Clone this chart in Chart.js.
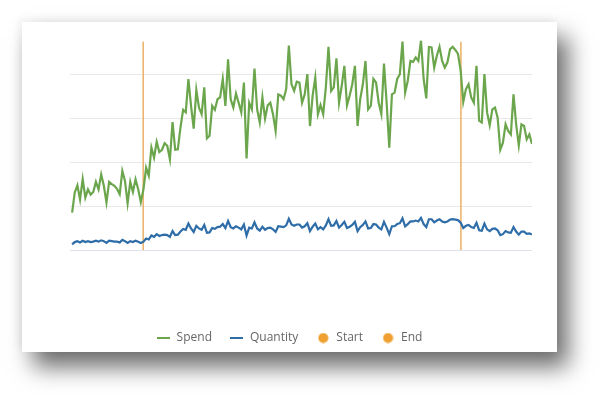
<!DOCTYPE html>
<html><head><meta charset="utf-8">
<script src="https://cdn.jsdelivr.net/npm/chart.js@4"></script>
<style>
html,body{margin:0;padding:0;background:#fff;width:600px;height:395px;overflow:hidden}
#card{position:absolute;left:22px;top:22px;width:535px;height:330px;background:#fff;
 box-shadow:11px 15px 22px rgba(0,0,0,0.58), -3px -3px 8px rgba(0,0,0,0.06);}
#card canvas{position:absolute;left:0;top:0}
</style></head>
<body><div id="card"><canvas id="c" width="535" height="332"></canvas></div>
<script>
const seriesNames = ['Spend', 'Quantity', 'Start', 'End'];
const spend = [
 8.5, 13.1, 14.7, 11.5, 16.1, 11.9, 13.8, 12.6,
 13.2, 15.5, 13.8, 17.2, 14.6, 10.8, 15.5, 15.0, 14.6, 13.9,
 12.7, 18.0, 15.7, 10.6, 15.5, 13.2, 16.1, 13.8, 10.9, 13.8, 18.7,
 16.9, 23.3, 21.0, 24.6, 22.3, 22.8, 24.3, 23.7, 20.6, 29.1,
 22.8, 22.9, 27.9, 31.9, 31.3, 38.9, 32.8, 27.6, 36.4, 32.4,
 30.9, 37.0, 25.4, 26.0, 32.8, 31.9, 34.3, 34.7, 38.9, 32.8,
 43.4, 34.3, 32.4, 35.6, 33.5, 31.3, 38.1, 20.8, 33.5, 32.0,
 41.3, 32.0, 29.0, 34.7, 29.9, 32.9, 33.5, 30.9, 27.1, 35.4,
 35.1, 34.3, 36.6, 46.5, 37.7, 36.2, 38.3, 38.1, 33.5, 35.4,
 40.0, 28.2, 35.1, 39.2, 30.9, 33.0,
 30.9, 37.0, 46.2, 36.2, 37.0, 43.6, 33.5, 37.3, 41.9, 32.9,
 35.1, 37.7, 41.9, 28.2, 34.3, 37.7, 43.0, 32.0, 32.8, 38.9,
 38.1, 33.5, 30.9, 42.4, 33.5, 23.3, 35.4, 35.8, 38.9, 40.0,
 47.4, 35.8, 38.5, 43.0, 42.8, 43.8, 43.0, 47.6, 38.9, 34.5,
 46.2, 46.1, 41.5, 44.2, 46.2, 43.0, 41.5, 42.7, 45.7, 46.2,
 45.5, 44.6, 40.8,
 33.7, 36.6, 37.7, 34.7, 33.5, 41.9, 29.4, 29.0, 40.0, 31.3,
 28.4, 32.0, 32.4, 30.1, 22.8, 24.4, 28.6, 27.1, 26.3, 35.4,
 28.6, 23.8, 28.6, 28.2, 25.2, 26.3, 24.1
];
const quantity = [
 1.3, 1.8, 2.0, 1.7, 2.1, 1.8, 2.0, 1.8,
 1.9, 2.1, 1.9, 2.2, 2.0, 1.6, 2.1, 2.0, 1.9, 1.9,
 1.7, 2.3, 2.0, 1.6, 2.0, 1.8, 2.1, 1.9, 1.6, 1.9,
 2.6, 2.4, 3.3, 3.0, 3.6, 3.2, 3.4, 3.5, 3.4, 3.0,
 4.3, 3.4, 3.5, 4.2, 4.8, 4.6, 6.0, 4.9, 4.1, 5.5,
 4.9, 4.6, 5.7, 3.9, 4.0, 5.0, 4.8, 5.2, 5.3, 5.9,
 5.0, 6.6, 5.2, 4.9, 5.4, 5.1, 4.7, 5.8, 3.3, 5.1,
 4.9, 6.3, 4.9, 4.4, 5.3, 4.6, 5.0, 5.1, 4.7, 4.1,
 5.4, 5.3, 5.2, 5.6, 7.1, 5.8, 5.5, 5.8, 5.8, 5.1,
 5.4, 6.1, 4.3, 5.3, 6.0, 4.7, 5.2,
 4.7, 5.6, 7.0, 5.5, 5.6, 6.6, 5.1, 5.7, 6.4, 5.0,
 5.3, 5.7, 6.4, 4.3, 5.2, 5.7, 6.5, 4.9, 5.0, 5.9,
 5.8, 5.1, 4.7, 6.4, 5.1, 3.6, 5.4, 5.4, 5.9, 6.1,
 7.2, 5.4, 5.9, 6.5, 6.5, 6.7, 6.5, 7.3, 5.9, 5.2,
 7.0, 7.0, 6.3, 6.7, 7.0, 6.5, 6.3, 6.5, 6.9, 7.0,
 6.9, 6.8, 6.2, 5.0, 5.5, 5.7, 5.2, 5.0, 6.2, 4.5,
 4.4, 6.0, 4.7, 4.3, 4.8, 4.9, 4.5, 3.4, 3.6, 4.3,
 4.0, 3.9, 5.2, 4.2, 3.5, 4.2, 4.2, 3.7, 3.8, 3.5
];
const startDay = 26.9;
const endDay = 147.1;
const markerTop = 47.4;

const GREEN = '#6ba64c', BLUE = '#2f6da8', VLINE = '#ecb46c', DOT = '#f0a030';

function lineIcon(color){
  const c = document.createElement('canvas'); c.width = 13; c.height = 2;
  const x = c.getContext('2d'); x.fillStyle = color; x.fillRect(0,0,13,2); return c;
}
function dotIcon(color){
  const c = document.createElement('canvas'); c.width = 11; c.height = 11;
  const x = c.getContext('2d'); x.fillStyle = color; x.beginPath(); x.arc(5.5,5.5,5,0,Math.PI*2); x.fill(); return c;
}
const icons = [lineIcon(GREEN), lineIcon(BLUE), dotIcon(DOT), dotIcon(DOT)];

const L = 25;
new Chart(document.getElementById('c'), {
  type: 'line',
  data: {
    datasets: [
      {label: seriesNames[0], data: spend.map((v,i)=>({x:i,y:v})), borderColor: GREEN, borderWidth: 2.2, pointRadius: 0, tension: 0},
      {label: seriesNames[1], data: quantity.map((v,i)=>({x:i,y:v})), borderColor: BLUE, borderWidth: 2.2, pointRadius: 0, tension: 0},
      {label: seriesNames[2], data: [{x:startDay,y:0},{x:startDay,y:markerTop}], borderColor: VLINE, borderWidth: 1.6, pointRadius: 0},
      {label: seriesNames[3], data: [{x:endDay,y:0},{x:endDay,y:markerTop}], borderColor: VLINE, borderWidth: 1.6, pointRadius: 0}
    ]
  },
  options: {
    responsive: false, animation: false,
    layout: {padding: {left: L, right: 25, top: 17, bottom: 0}},
    scales: {
      x: {type: 'linear', min: -0.8, max: 174, ticks: {display: false}, grid: {display: false}, border: {display: false},
          afterFit(s){ s.height = 64; }},
      y: {min: 0, max: 48, ticks: {display: false, stepSize: 10},
          grid: {drawTicks: false, color: c => c.tick.value > 45 ? 'rgba(0,0,0,0)' : (c.tick.value === 0 ? '#dde2ea' : '#e8e8e8'), lineWidth: 1},
          border: {display: false}, afterFit(s){ s.width = 48 - L; }}
    },
    plugins: {
      tooltip: {enabled: false},
      legend: {
        position: 'bottom',
        labels: {
          usePointStyle: true, pointStyleWidth: 14, padding: 18,
          font: {family: "'Open Sans'", size: 12}, color: '#666',
          generateLabels(chart){
            return chart.data.datasets.map((ds,i)=>({
              text: ds.label, datasetIndex: i, pointStyle: icons[i],
              fillStyle: 'rgba(0,0,0,0)', strokeStyle: 'rgba(0,0,0,0)', lineWidth: 0, hidden: false, fontColor: '#666'
            }));
          }
        }
      }
    }
  }
});
</script>
</body></html>
